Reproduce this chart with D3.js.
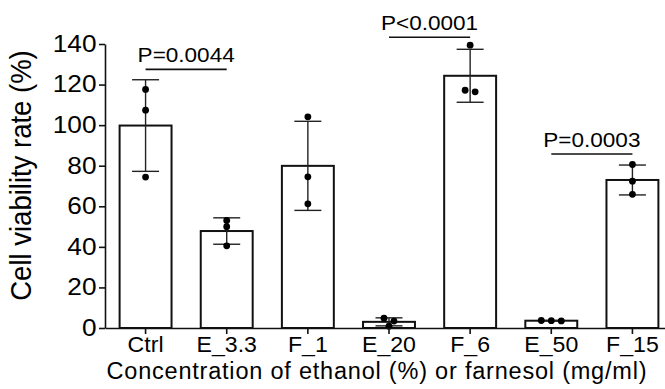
<!DOCTYPE html>
<html>
<head>
<meta charset="utf-8">
<script src="https://cdn.jsdelivr.net/npm/d3@7"></script>
<style>
  html, body { margin: 0; padding: 0; background: #fff; }
  svg { display: block; font-family: "Liberation Sans", Arial, sans-serif; }
</style>
</head>
<body>
<div id="chart"></div>
<script>
// groups on the x axis
const groups = ['Ctrl', 'E_3.3', 'F_1', 'E_20', 'F_6', 'E_50', 'F_15'];

// replicate values per group (%)
const replicates = [
    [117.6, 107.4, 74.4],
    [53.0, 49.9, 40.5],
    [104.1, 74.5, 61.2],
    [4.8, 3.4, 0.9],
    [139.4, 116.4, 117.2],
    [3.6, 3.5, 3.7],
    [80.6, 72.4, 65.9]
];

const yTicks = [0, 20, 40, 60, 80, 100, 120, 140];

// significance brackets: [from, to, bracket level, label]
const comparisons = [
    ['Ctrl', 'E_3.3', 127.5, 'P=0.0044'],
    ['E_20', 'F_6', 143.3, 'P<0.0001'],
    ['E_50', 'F_15', 85.8, 'P=0.0003']
];

const width = 665;
const height = 389;
const margin = { top: 44, right: -8, bottom: 61, left: 105 };

// the original text is a little wider than Arial
const stretch = 1.14;

const svg = d3.select('#chart').append('svg')
    .attr('width', width)
    .attr('height', height);

const x = d3.scaleBand()
    .domain(groups)
    .range([margin.left, width - margin.right])
    .paddingInner(0.36)
    .paddingOuter(0.18);

const y = d3.scaleLinear()
    .domain([0, 140])
    .range([height - margin.bottom, margin.top]);

const stats = groups.map((g, i) => ({
    group: g,
    mean: d3.mean(replicates[i]),
    sd: d3.deviation(replicates[i])
}));

// bars
svg.append('g')
    .selectAll('rect')
    .data(stats)
    .join('rect')
    .attr('x', d => x(d.group))
    .attr('y', d => y(d.mean))
    .attr('width', x.bandwidth())
    .attr('height', d => y(0) - y(d.mean))
    .attr('fill', '#fff')
    .attr('stroke', '#111')
    .attr('stroke-width', 2);

// error bars (mean +/- SD)
const capHalf = 13.5;
const err = svg.append('g')
    .attr('stroke', '#222')
    .attr('stroke-width', 1.4);
stats.forEach(d => {
    const cx = x(d.group) + x.bandwidth() / 2;
    const lo = Math.max(0, d.mean - d.sd);
    err.append('line')
        .attr('x1', cx).attr('x2', cx)
        .attr('y1', y(d.mean + d.sd)).attr('y2', y(lo));
    err.append('line')
        .attr('x1', cx - capHalf).attr('x2', cx + capHalf)
        .attr('y1', y(d.mean + d.sd)).attr('y2', y(d.mean + d.sd));
    err.append('line')
        .attr('x1', cx - capHalf).attr('x2', cx + capHalf)
        .attr('y1', y(lo)).attr('y2', y(lo));
});

// replicate dots, rows of near-equal values spread sideways
const dotR = 3.4;
const dotGap = 10;
const dots = [];
groups.forEach((g, i) => {
    const cx = x(g) + x.bandwidth() / 2;
    const vals = replicates[i].slice().sort((a, b) => b - a);
    const rows = [];
    vals.forEach(v => {
        const last = rows[rows.length - 1];
        if (last && Math.abs(y(last[0]) - y(v)) < 4) last.push(v);
        else rows.push([v]);
    });
    rows.forEach(row => {
        row.forEach((v, k) => {
            dots.push({ x: cx + (k - (row.length - 1) / 2) * dotGap, v: v });
        });
    });
});
svg.append('g')
    .selectAll('circle')
    .data(dots)
    .join('circle')
    .attr('cx', d => d.x)
    .attr('cy', d => y(d.v))
    .attr('r', dotR)
    .attr('fill', '#000');

// axes
const yAxis = svg.append('g')
    .attr('transform', `translate(${margin.left},0)`)
    .call(d3.axisLeft(y).tickValues(yTicks).tickSize(6).tickSizeOuter(0).tickPadding(3));
yAxis.selectAll('text')
    .attr('font-size', 23)
    .attr('fill', '#000')
    .attr('font-family', null)
    .attr('x', -8.5 / stretch)
    .attr('transform', `scale(${stretch},1)`);
yAxis.selectAll('line, path').attr('stroke', '#111').attr('stroke-width', 1.6);

const xAxis = svg.append('g')
    .attr('transform', `translate(0,${y(0)})`)
    .call(d3.axisBottom(x).tickSize(6).tickSizeOuter(0).tickPadding(2));
xAxis.selectAll('text')
    .attr('font-size', 22)
    .attr('fill', '#000')
    .attr('font-family', null)
    .attr('transform', 'scale(1.05,1)');
xAxis.selectAll('line, path').attr('stroke', '#111').attr('stroke-width', 1.6);

// significance brackets
comparisons.forEach(([a, b, level, label]) => {
    const x1 = x(a) + x.bandwidth() / 2;
    const x2 = x(b) + x.bandwidth() / 2;
    svg.append('line')
        .attr('x1', x1).attr('x2', x2)
        .attr('y1', y(level)).attr('y2', y(level))
        .attr('stroke', '#111')
        .attr('stroke-width', 1.6);
    svg.append('text')
        .attr('transform', `translate(${(x1 + x2) / 2},${y(level) - 7}) scale(1.1,1)`)
        .attr('text-anchor', 'middle')
        .attr('font-size', 20.5)
        .text(label);
});

// axis titles
svg.append('text')
    .attr('transform', `translate(31,${175.5}) rotate(-90) scale(1,1.08)`)
    .attr('text-anchor', 'middle')
    .attr('font-size', 27.5)
    .text('Cell viability rate (%)');

svg.append('text')
    .attr('x', 376.5)
    .attr('y', 378.5)
    .attr('text-anchor', 'middle')
    .attr('font-size', 23.5)
    .attr('textLength', 540)
    .text('Concentration of ethanol (%) or farnesol (mg/ml)');
</script>
</body>
</html>
